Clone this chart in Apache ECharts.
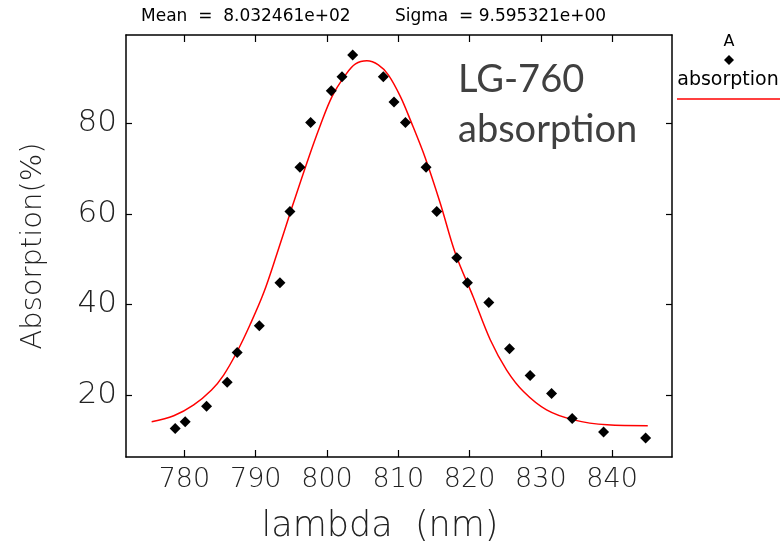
<!DOCTYPE html>
<html>
<head>
<meta charset="utf-8">
<script src="https://cdn.jsdelivr.net/npm/echarts@6/dist/echarts.min.js"></script>
<style>
html,body{margin:0;padding:0;background:#fff;}
#chart{width:780px;height:546px;}
</style>
</head>
<body>
<div id="chart"></div>
<script>
// measured points (lambda in nm, absorption in %)
var lambda = [778.7, 780.1, 783.1, 786.0, 787.4, 790.5, 793.4, 794.8, 796.2, 797.7, 800.6, 802.1, 803.6, 807.9, 809.4, 811.0, 813.9, 815.4, 818.2, 819.7, 822.7, 825.6, 828.5, 831.5, 834.4, 838.8, 844.7];
var absorption = [12.6, 14.1, 17.5, 22.8, 29.4, 35.3, 44.8, 60.5, 70.3, 80.2, 87.2, 90.3, 95.1, 90.3, 84.7, 80.2, 70.3, 60.5, 50.3, 44.8, 40.4, 30.2, 24.3, 20.3, 14.8, 11.8, 10.5];
// fitted curve
var fitLambda = [775.4, 778.5, 781.3, 783.8, 785.5, 787.4, 789.2, 791.1, 793.0, 795.1, 797.4, 799.0, 800.7, 802.6, 804.0, 805.6, 807.2, 808.6, 810.3, 811.7, 813.8, 815.9, 818.0, 820.5, 822.9, 825.2, 827.6, 830.8, 834.6, 839.3, 845.0];
var fitAbs = [14.1, 15.4, 17.8, 21.1, 24.4, 29.6, 35.5, 42.5, 51.3, 61.5, 72.3, 79.3, 85.9, 90.7, 93.1, 93.8, 92.9, 90.7, 85.9, 80.7, 72.3, 62.3, 51.3, 41.7, 32.2, 25.5, 20.7, 16.7, 14.5, 13.4, 13.2];
var xTicks = [780, 790, 800, 810, 820, 830, 840];
var yTicks = [20, 40, 60, 80];
var meanText = 'Mean  =  8.032461e+02';
var sigmaText = 'Sigma  = 9.595321e+00';
var noteLines = ['LG-760', 'absorption'];
var legendTitle = 'A';
var legendName = 'absorption';

var pts = lambda.map(function(v, i){ return [v, absorption[i]]; });
var fit = fitLambda.map(function(v, i){ return [v, fitAbs[i]]; });

var FONT = 'DejaVu Sans';
var axisCommon = {
  type: 'value', min: 771.8, max: 848.4,
  axisLine: {show: true, onZero: false, lineStyle: {color: '#000', width: 1.5}},
  splitLine: {show: false},
  axisTick: {show: true, inside: true, length: 7, customValues: xTicks, lineStyle: {color: '#000', width: 1.2}}
};

var chart = echarts.init(document.getElementById('chart'), null, {renderer: 'canvas'});
chart.setOption({
  backgroundColor: '#fff',
  animation: false,
  grid: {left: 126, right: 108, top: 35, bottom: 89, containLabel: false, outerBoundsMode: 'none'},
  xAxis: [
    Object.assign({}, axisCommon, {
      position: 'bottom',
      name: 'lambda  (nm)', nameLocation: 'middle', nameGap: 52,
      nameTextStyle: {fontFamily: FONT, fontWeight: 200, fontSize: 35, color: '#222', padding: [0, 38, 0, 0]},
      axisLabel: {show: true, customValues: xTicks, margin: 9, fontFamily: FONT, fontWeight: 200, fontSize: 27, color: '#222'}
    }),
    Object.assign({}, axisCommon, {
      position: 'top',
      axisLabel: {show: false}
    })
  ],
  yAxis: [
    {
      type: 'value', min: 6.3, max: 99.5, position: 'left',
      axisLine: {show: true, onZero: false, lineStyle: {color: '#000', width: 1.5}},
      splitLine: {show: false},
      axisTick: {show: true, inside: true, length: 6, customValues: yTicks, lineStyle: {color: '#000', width: 1.2}},
      axisLabel: {show: true, customValues: yTicks, margin: 9, fontFamily: FONT, fontWeight: 200, fontSize: 31, color: '#222'},
      name: 'Absorption(%)', nameLocation: 'middle', nameGap: 78,
      nameTextStyle: {fontFamily: FONT, fontWeight: 200, fontSize: 29, color: '#222'}
    },
    {
      type: 'value', min: 6.3, max: 99.5, position: 'right',
      axisLine: {show: true, onZero: false, lineStyle: {color: '#000', width: 1.5}},
      splitLine: {show: false},
      axisTick: {show: true, inside: true, length: 6, customValues: yTicks, lineStyle: {color: '#000', width: 1.2}},
      axisLabel: {show: false}
    }
  ],
  series: [
    {
      name: 'fit', type: 'line', data: fit, smooth: 0.35, showSymbol: false,
      lineStyle: {color: '#ff0000', width: 1.5}, z: 2
    },
    {
      name: 'absorption', type: 'scatter', data: pts, symbol: 'diamond', symbolSize: 11,
      itemStyle: {color: '#000', opacity: 1}, z: 3
    }
  ],
  graphic: [
    {type: 'text', left: 141, top: 8, style: {text: meanText, fontSize: 17, fontFamily: FONT, fill: '#000'}},
    {type: 'text', left: 395, top: 8, style: {text: sigmaText, fontSize: 17, fontFamily: FONT, fill: '#000'}},
    {type: 'text', left: 458, top: 61, style: {text: noteLines[0], fontSize: 38, fontFamily: 'Lato', fill: '#404040'}},
    {type: 'text', left: 458, top: 111, style: {text: noteLines[1], fontSize: 38, fontFamily: 'Lato', fill: '#404040'}},
    {type: 'text', x: 729, y: 42, style: {text: legendTitle, fontSize: 16, fontFamily: FONT, fill: '#000', align: 'center', verticalAlign: 'middle'}},
    {type: 'polygon', shape: {points: [[729, 55], [734, 60], [729, 65], [724, 60]]}, style: {fill: '#000'}},
    {type: 'text', x: 728, y: 80, style: {text: legendName, fontSize: 19, fontFamily: FONT, fill: '#000', align: 'center', verticalAlign: 'middle'}},
    {type: 'line', shape: {x1: 677, y1: 99, x2: 780, y2: 99}, style: {stroke: '#ff0000', lineWidth: 1.5}}
  ]
});
</script>
</body>
</html>
